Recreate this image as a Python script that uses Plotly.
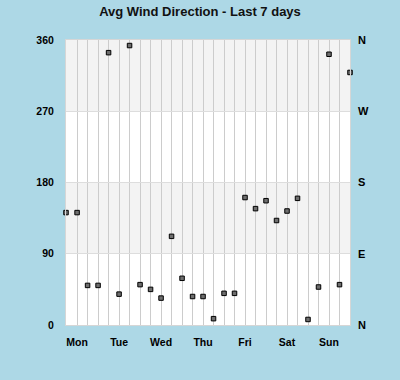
import plotly.graph_objects as go

# --- data ---
times = [
    "2024-01-07 17:40", "2024-01-08 00:00", "2024-01-08 06:00", "2024-01-08 12:00",
    "2024-01-08 18:00", "2024-01-09 00:00", "2024-01-09 06:00", "2024-01-09 12:00",
    "2024-01-09 18:00", "2024-01-10 00:00", "2024-01-10 06:00", "2024-01-10 12:00",
    "2024-01-10 18:00", "2024-01-11 00:00", "2024-01-11 06:00", "2024-01-11 12:00",
    "2024-01-11 18:00", "2024-01-12 00:00", "2024-01-12 06:00", "2024-01-12 12:00",
    "2024-01-12 18:00", "2024-01-13 00:00", "2024-01-13 06:00", "2024-01-13 12:00",
    "2024-01-13 18:00", "2024-01-14 00:00", "2024-01-14 06:00", "2024-01-14 12:00",
]
direction = [
    142, 142, 50, 50, 344, 39, 353, 51, 45, 34, 112, 59, 36, 36,
    8, 40, 40, 161, 147, 157, 132, 144, 160, 7, 48, 342, 51, 319,
]
day_ticks = ["2024-01-08", "2024-01-09", "2024-01-10", "2024-01-11",
             "2024-01-12", "2024-01-13", "2024-01-14"]
day_labels = ["Mon", "Tue", "Wed", "Thu", "Fri", "Sat", "Sun"]
deg_ticks = [0, 90, 180, 270, 360]
deg_labels = ["0", "90", "180", "270", "360"]
compass_labels = ["N", "E", "S", "W", "N"]
band_ranges = [(90, 180), (270, 360)]

FONT = "Liberation Sans, Arial, sans-serif"
BG = "#ADD8E6"

fig = go.Figure()
fig.add_trace(go.Scatter(
    x=times, y=direction, mode="markers", cliponaxis=False,
    marker=dict(symbol="square", size=4.5, color="#6e6e6e",
                line=dict(color="#000000", width=1)),
    showlegend=False, hoverinfo="x+y",
))
fig.add_trace(go.Scatter(
    x=times, y=direction, mode="markers", yaxis="y2",
    marker=dict(opacity=0), showlegend=False, hoverinfo="skip",
))

for lo, hi in band_ranges:
    fig.add_shape(type="rect", xref="paper", yref="y", x0=0, x1=1, y0=lo, y1=hi,
                  fillcolor="#f3f3f3", line=dict(width=0), layer="below")

tickfont = dict(family=FONT, size=10.5, color="#000000", weight="bold")

fig.update_layout(
    width=400, height=380,
    paper_bgcolor=BG, plot_bgcolor="#ffffff",
    margin=dict(l=66, r=50, t=40, b=55),
    title=dict(text="Avg Wind Direction - Last 7 days", x=0.5, xanchor="center",
               y=1 - 11 / 380, yanchor="middle", yref="container",
               font=dict(family=FONT, size=13, color="#111111", weight="bold")),
    xaxis=dict(
        type="date", range=[times[0], times[-1]],
        tickmode="array", tickvals=day_ticks, ticktext=day_labels,
        showgrid=True, gridcolor="#cccccc", gridwidth=1,
        minor=dict(dtick=21600000, tick0="2024-01-08", showgrid=True,
                   gridcolor="#cccccc", gridwidth=1, ticks=""),
        ticks="", ticklabelstandoff=7, tickfont=tickfont,
        showline=True, linecolor="#d6d6d6", linewidth=1, mirror=True,
        zeroline=False,
    ),
    yaxis=dict(
        range=[0, 360], tickmode="array", tickvals=deg_ticks, ticktext=deg_labels,
        showgrid=True, gridcolor="#dddddd", gridwidth=1, zeroline=False,
        ticks="", ticklabelstandoff=9, tickfont=tickfont,
        showline=True, linecolor="#d6d6d6", linewidth=1, mirror=True,
    ),
    yaxis2=dict(
        range=[0, 360], overlaying="y", side="right",
        tickmode="array", tickvals=deg_ticks, ticktext=compass_labels,
        showgrid=False, zeroline=False, ticks="", ticklabelstandoff=7,
        tickfont=dict(family=FONT, size=11, color="#000000", weight="bold"),
    ),
)

fig.write_html(
    "out.html",
    config={"displayModeBar": False},
    post_script="document.body.style.margin='0';document.body.style.overflow='hidden';"
                "document.body.style.background='#ADD8E6';",
)
